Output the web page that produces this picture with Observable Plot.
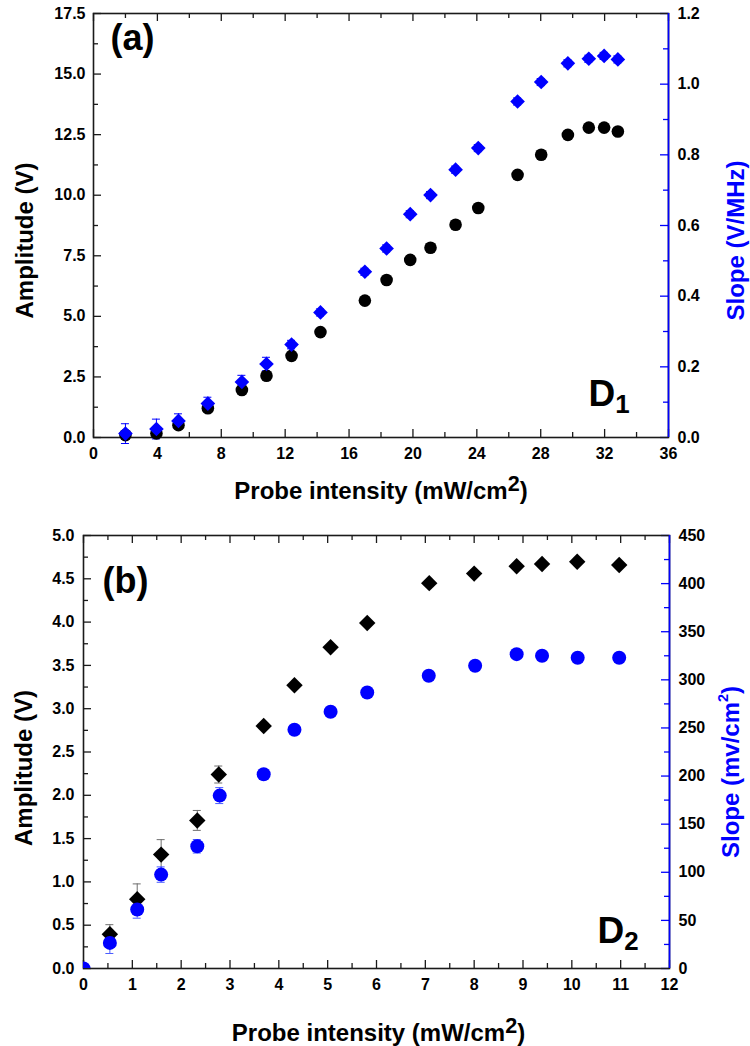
<!DOCTYPE html>
<html>
<head>
<meta charset="utf-8">
<script src="https://cdn.jsdelivr.net/npm/d3@7"></script>
<script src="https://cdn.jsdelivr.net/npm/@observablehq/plot@0.6"></script>
<style>
  body { margin: 0; background: #fff; }
  #chart { width: 750px; }
  #chart svg { display: block; }
</style>
</head>
<body>
<div id="chart"></div>
<script>
// ---------- Panel (a): D1 ----------
const aIntensity = [2.0, 3.94, 5.32, 7.16, 9.29, 10.83, 12.4, 14.21, 16.99, 18.35, 19.83, 21.1, 22.67, 24.09, 26.55, 28.03, 29.7, 31.01, 31.97, 32.83];
const aAmplitude = [0.1, 0.17, 0.51, 1.21, 1.96, 2.55, 3.37, 4.35, 5.65, 6.5, 7.33, 7.83, 8.78, 9.47, 10.84, 11.67, 12.49, 12.79, 12.79, 12.63];
const aSlope = [0.011, 0.024, 0.047, 0.096, 0.157, 0.208, 0.263, 0.354, 0.469, 0.535, 0.632, 0.686, 0.758, 0.819, 0.951, 1.006, 1.059, 1.072, 1.08, 1.07];
const aSlopeErr = [0.028, 0.028, 0.02, 0.018, 0.019, 0.019, 0.012, 0.01, 0.01, 0.01, 0.01, 0.01, 0.01, 0.01, 0.01, 0.01, 0.01, 0.01, 0.01, 0.01];
const aXTicks = [0, 4, 8, 12, 16, 20, 24, 28, 32, 36];
const aYTicks = [0, 2.5, 5, 7.5, 10, 12.5, 15, 17.5];
const aY2Ticks = [0, 0.2, 0.4, 0.6, 0.8, 1.0, 1.2];

// ---------- Panel (b): D2 ----------
const bIntensity = [0.54, 1.10, 1.59, 2.33, 2.77, 3.69, 4.32, 5.06, 5.81, 7.08, 8.0, 8.87, 9.39, 10.11, 10.97];
const bAmplitude = [0.396, 0.80, 1.315, 1.71, 2.24, 2.80, 3.27, 3.71, 3.99, 4.45, 4.56, 4.645, 4.67, 4.696, 4.66];
const bAmplitudeErr = [0.11, 0.177, 0.173, 0.115, 0.098, 0.03, 0.03, 0.03, 0.03, 0.03, 0.03, 0.03, 0.03, 0.03, 0.03];
const bSlopeIntensity = [0, 0.54, 1.10, 1.59, 2.33, 2.79, 3.69, 4.32, 5.06, 5.81, 7.07, 8.02, 8.87, 9.39, 10.12, 10.97];
const bSlope = [0, 26.6, 61.3, 97.6, 127, 179.7, 201.8, 248.2, 266.9, 286.9, 304.3, 314.6, 326.7, 325, 323, 323];
const bSlopeErr = [0, 11, 9, 8, 7, 8.3, 3, 3, 3, 3, 3, 3, 3, 3, 3, 3];
const bXTicks = [0, 1, 2, 3, 4, 5, 6, 7, 8, 9, 10, 11, 12];
const bYTicks = [0, 0.5, 1.0, 1.5, 2.0, 2.5, 3.0, 3.5, 4.0, 4.5, 5.0];
const bY2Ticks = [0, 50, 100, 150, 200, 250, 300, 350, 400, 450];

const FONT = "'Liberation Sans', Arial, Helvetica, sans-serif";
const BLUE = "#0000ff";
const INK = "#1a1a1a";
const TICKFONT = 16;

// rich-text specs (superscripts / subscripts), applied after rendering
const rich = new Map();

function label(text, opts, spec) {
  if (spec) rich.set(text, spec);
  return Plot.text([text], {text: d => d, ...opts});
}

function panel({height, margin, xTicks, yTicks, y2Ticks, xFmt, yFmt, y2Fmt, layers, texts}) {
  const [mT, mR, mB, mL] = margin;
  const W = 750;
  const innerW = W - mL - mR, innerH = height - mT - mB;
  const yMax = yTicks[yTicks.length - 1];
  const k = yMax / y2Ticks[y2Ticks.length - 1];
  const mid = a => d3.pairs(a, (p, q) => (p + q) / 2);
  const MAJ = 8, MIN = 5;
  const tickStyle = {stroke: INK, strokeWidth: 1.3};
  return Plot.plot({
    width: W, height,
    marginTop: mT, marginRight: mR, marginBottom: mB, marginLeft: mL,
    x: {domain: [xTicks[0], xTicks[xTicks.length - 1]]},
    y: {domain: [yTicks[0], yMax]},
    style: {fontFamily: FONT, fontWeight: "bold", fontSize: TICKFONT + "px", background: "#fff", color: "#000", overflow: "visible"},
    marks: [
      // inward tick marks
      Plot.ruleX(xTicks, {insetTop: innerH - MAJ, ...tickStyle}),
      Plot.ruleX(mid(xTicks), {insetTop: innerH - MIN, ...tickStyle}),
      Plot.ruleX(xTicks, {insetBottom: innerH - MAJ, ...tickStyle}),
      Plot.ruleX(mid(xTicks), {insetBottom: innerH - MIN, ...tickStyle}),
      Plot.ruleY(yTicks, {insetRight: innerW - MAJ, ...tickStyle}),
      Plot.ruleY(mid(yTicks), {insetRight: innerW - MIN, ...tickStyle}),
      Plot.ruleY(y2Ticks.map(v => v * k), {insetLeft: innerW - MAJ, stroke: BLUE, strokeWidth: 1.3}),
      Plot.ruleY(mid(y2Ticks).map(v => v * k), {insetLeft: innerW - MIN, stroke: BLUE, strokeWidth: 1.3}),
      // frame, right side blue
      Plot.frame({stroke: INK, strokeWidth: 1.6}),
      Plot.ruleX([xTicks[xTicks.length - 1]], {stroke: BLUE, strokeWidth: 1.6}),
      // tick labels
      Plot.axisX({ticks: xTicks, tickSize: 0, tickPadding: xFmt.pad, tickFormat: xFmt.f, fontSize: TICKFONT, label: null}),
      Plot.axisY({anchor: "left", ticks: yTicks, tickSize: 0, tickPadding: yFmt.pad, tickFormat: yFmt.f, fontSize: TICKFONT, label: null}),
      Plot.axisY({anchor: "right", ticks: y2Ticks.map(v => v * k), tickSize: 0, tickPadding: y2Fmt.pad,
                  tickFormat: d => y2Fmt.f(d / k), fontSize: TICKFONT, label: null}),
      ...layers(k),
      ...texts
    ]
  });
}

// ----- build panel (a)
const aRows = aIntensity.map((x, i) => ({x, amp: aAmplitude[i], slope: aSlope[i], err: aSlopeErr[i]}));
const figA = panel({
  height: 510,
  margin: [13, 82, 73, 93],
  xTicks: aXTicks, yTicks: aYTicks, y2Ticks: aY2Ticks,
  xFmt: {f: d3.format("d"), pad: 10},
  yFmt: {f: d3.format(".1f"), pad: 8},
  y2Fmt: {f: d3.format(".1f"), pad: 9},
  layers: k => [
    Plot.ruleX(aRows, {x: "x", y1: d => (d.slope - d.err) * k, y2: d => (d.slope + d.err) * k, stroke: BLUE, strokeWidth: 1}),
    Plot.ruleY(aRows, {y: d => (d.slope + d.err) * k, x1: "x", x2: "x", insetLeft: -4, insetRight: -4, stroke: BLUE, strokeWidth: 1}),
    Plot.ruleY(aRows, {y: d => (d.slope - d.err) * k, x1: "x", x2: "x", insetLeft: -4, insetRight: -4, stroke: BLUE, strokeWidth: 1}),
    Plot.dot(aRows, {x: "x", y: "amp", r: 6.3, fill: "#000"}),
    Plot.dot(aRows, {x: "x", y: d => d.slope * k, symbol: "diamond2", r: 6.6, fill: BLUE})
  ],
  texts: [
    label("Amplitude (V)", {frameAnchor: "left", rotate: -90, dx: -61, dy: 15, textAnchor: "middle", lineAnchor: "bottom", fontSize: 24}),
    label("Slope (V/MHz)", {frameAnchor: "right", rotate: -90, dx: 75, dy: 15, textAnchor: "middle", lineAnchor: "bottom", fontSize: 24, fill: BLUE}),
    label("Probe intensity (mW/cm^2)", {frameAnchor: "bottom", dx: 0, dy: 61, textAnchor: "middle", lineAnchor: "bottom", fontSize: 24}, {kind: "sup", scale: 0.9, shift: 8}),
    label("(a)", {frameAnchor: "top-left", dx: 17, dy: 36, textAnchor: "start", lineAnchor: "bottom", fontSize: 36}),
    label("D_1", {frameAnchor: "bottom-right", dx: -80, dy: -32, textAnchor: "start", lineAnchor: "bottom", fontSize: 37}, {kind: "sub", scale: 0.7, shift: 7})
  ]
});

// ----- build panel (b)
const bAmpRows = bIntensity.map((x, i) => ({x, amp: bAmplitude[i], err: bAmplitudeErr[i]}));
const bSlopeRows = bSlopeIntensity.map((x, i) => ({x, slope: bSlope[i], err: bSlopeErr[i]}));
const ERRGRAY = "#6e6e6e", ERRBLUE = "#4a5cff";
const figB = panel({
  height: 536,
  margin: [25, 81, 78, 83],
  xTicks: bXTicks, yTicks: bYTicks, y2Ticks: bY2Ticks,
  xFmt: {f: d3.format("d"), pad: 10},
  yFmt: {f: d3.format(".1f"), pad: 9},
  y2Fmt: {f: d => d3.format("d")(Math.round(d)), pad: 9},
  layers: k => [
    Plot.ruleX(bAmpRows, {x: "x", y1: d => d.amp - d.err, y2: d => d.amp + d.err, stroke: ERRGRAY, strokeWidth: 1}),
    Plot.ruleY(bAmpRows, {y: d => d.amp + d.err, x1: "x", x2: "x", insetLeft: -4, insetRight: -4, stroke: ERRGRAY, strokeWidth: 1}),
    Plot.ruleY(bAmpRows, {y: d => d.amp - d.err, x1: "x", x2: "x", insetLeft: -4, insetRight: -4, stroke: ERRGRAY, strokeWidth: 1}),
    Plot.ruleX(bSlopeRows, {x: "x", y1: d => (d.slope - d.err) * k, y2: d => (d.slope + d.err) * k, stroke: ERRBLUE, strokeWidth: 1, clip: true}),
    Plot.ruleY(bSlopeRows, {y: d => (d.slope + d.err) * k, x1: "x", x2: "x", insetLeft: -4, insetRight: -4, stroke: ERRBLUE, strokeWidth: 1, clip: true}),
    Plot.ruleY(bSlopeRows, {y: d => (d.slope - d.err) * k, x1: "x", x2: "x", insetLeft: -4, insetRight: -4, stroke: ERRBLUE, strokeWidth: 1, clip: true}),
    Plot.dot(bAmpRows, {x: "x", y: "amp", symbol: "diamond2", r: 7.4, fill: "#000"}),
    Plot.dot(bSlopeRows, {x: "x", y: d => d.slope * k, r: 7, fill: BLUE, clip: true})
  ],
  texts: [
    label("Amplitude (V)", {frameAnchor: "left", rotate: -90, dx: -52, dy: 16, textAnchor: "middle", lineAnchor: "bottom", fontSize: 24}),
    label("Slope (mv/cm^2)", {frameAnchor: "right", rotate: -90, dx: 69, dy: 20, textAnchor: "middle", lineAnchor: "bottom", fontSize: 24, fill: BLUE}, {kind: "sup", scale: 0.6, shift: 11}),
    label("Probe intensity (mW/cm^2)", {frameAnchor: "bottom", dx: 2, dy: 72, textAnchor: "middle", lineAnchor: "bottom", fontSize: 24}, {kind: "sup", scale: 0.9, shift: 8}),
    label("(b)", {frameAnchor: "top-left", dx: 19, dy: 57, textAnchor: "start", lineAnchor: "bottom", fontSize: 36}),
    label("D_2", {frameAnchor: "bottom-right", dx: -72, dy: -26, textAnchor: "start", lineAnchor: "bottom", fontSize: 37}, {kind: "sub", scale: 0.7, shift: 7})
  ]
});

const chart = document.getElementById("chart");
chart.append(figA, figB);

for (const svg of [figA, figB]) {
  // make sure tick labels use the intended size
  d3.select(svg).selectAll('g[aria-label$="tick label"]').style("font-size", TICKFONT + "px").attr("font-size", TICKFONT);
  // apply superscripts / subscripts as tspans
  d3.select(svg).selectAll("text").each(function () {
    const t = this.textContent;
    const spec = rich.get(t);
    if (!spec) return;
    const m = t.match(/^(.*?)[\^_](\w)(.*)$/);
    if (!m) return;
    const [, pre, ch, post] = m;
    const fs = parseFloat(getComputedStyle(this).fontSize) || 24;
    const sel = d3.select(this);
    sel.text(null);
    sel.append("tspan").text(pre);
    const dir = spec.kind === "sup" ? -1 : 1;
    sel.append("tspan").attr("font-size", fs * spec.scale).attr("dy", dir * spec.shift).text(ch);
    if (post.length) sel.append("tspan").attr("font-size", fs).attr("dy", -dir * spec.shift).text(post);
  });
}
</script>
</body>
</html>
